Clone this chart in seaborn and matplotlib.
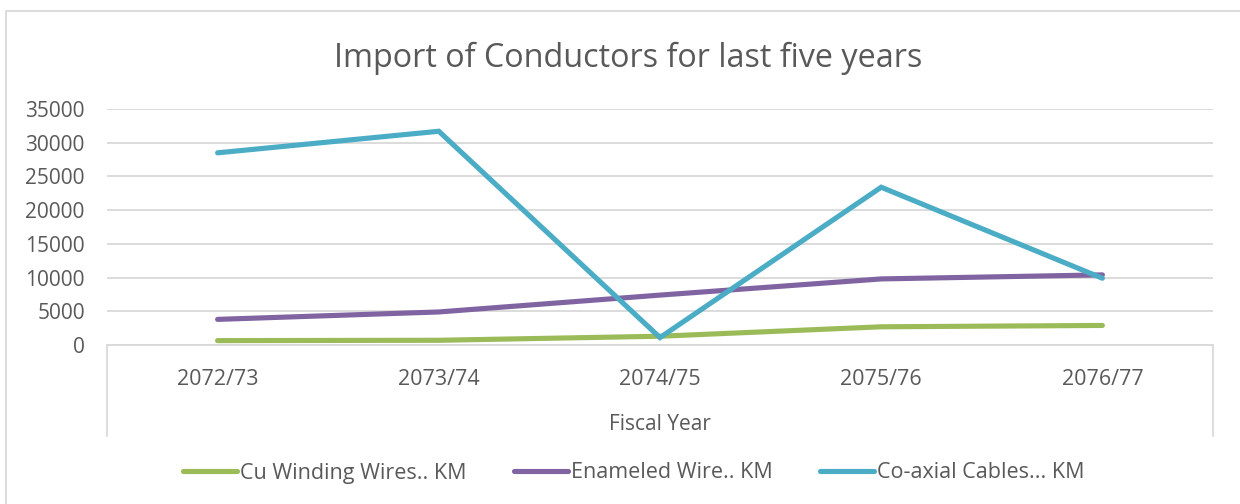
import matplotlib
matplotlib.use("Agg")
import matplotlib.pyplot as plt
import seaborn as sns
import pandas as pd
from matplotlib.lines import Line2D

years = ["2072/73", "2073/74", "2074/75", "2075/76", "2076/77"]
cu_winding = [650, 700, 1300, 2700, 2900]
enameled = [3800, 4900, 7400, 9800, 10400]
coaxial = [28500, 31700, 1100, 23400, 9900]
series_names = ["Cu Winding Wires.. KM", "Enameled Wire.. KM", "Co-axial Cables... KM"]
colors = ["#9BBB59", "#8064A2", "#4BACC6"]
yticks = [0, 5000, 10000, 15000, 20000, 25000, 30000, 35000]

rows = []
for name, vals in zip(series_names, [cu_winding, enameled, coaxial]):
    for y, v in zip(years, vals):
        rows.append({"Fiscal Year": y, "value": v, "series": name})
df = pd.DataFrame(rows)

sns.set_theme(style="white")
plt.rcParams["font.family"] = ["Open Sans", "DejaVu Sans"]
txt = "#595959"

W, H = 1240, 504
fig = plt.figure(figsize=(W / 100, H / 100), dpi=100)
ax = fig.add_axes([107 / W, 1 - 345 / H, 1106 / W, 236 / H])

sns.lineplot(data=df, x="Fiscal Year", y="value", hue="series",
             hue_order=series_names, palette=colors, linewidth=3.7,
             sort=False, ax=ax, legend=False,
             solid_capstyle="round", solid_joinstyle="miter")

ax.set_xlim(-0.5, len(years) - 0.5)
ax.set_ylim(0, 35000)
ax.set_yticks(yticks)
ax.set_yticklabels([str(t) for t in yticks])
ax.grid(axis="y", color="#D9D9D9", linewidth=1.3)
ax.grid(axis="x", visible=False)
ax.set_axisbelow(True)
for s in ["top", "left", "right"]:
    ax.spines[s].set_visible(False)
ax.spines["bottom"].set_color("#D9D9D9")
ax.spines["bottom"].set_linewidth(1.3)
ax.tick_params(axis="y", length=0, pad=16, labelsize=15, labelcolor=txt)
ax.tick_params(axis="x", length=0, pad=17.5, labelsize=15.5, labelcolor=txt)
ax.set_ylabel("")
ax.set_xlabel("Fiscal Year", fontsize=15, color=txt, labelpad=17)

# category box side lines below the axis
depth = (436 - 345) / 236
for xx in (0, 1):
    ax.add_line(Line2D([xx, xx], [0, -depth], transform=ax.transAxes,
                       color="#D9D9D9", linewidth=1.3, clip_on=False))

# outer chart frame
fig.add_artist(Line2D([6 / W, 6 / W], [0, 1 - 11 / H], transform=fig.transFigure,
                      color="#D9D9D9", linewidth=1.3))
fig.add_artist(Line2D([6 / W, 1], [1 - 11 / H, 1 - 11 / H], transform=fig.transFigure,
                      color="#D9D9D9", linewidth=1.3))

fig.text(628 / W, 1 - 58 / H, "Import of Conductors for last five years",
         ha="center", va="center", fontsize=23.3, color=txt)

handles = [Line2D([0], [0], color=c, linewidth=3.7, solid_capstyle="round")
           for c in colors]
fig.legend(handles, series_names, loc="center", bbox_to_anchor=(634 / W, 1 - 473 / H),
           ncol=3, frameon=False, fontsize=15.5, labelcolor=txt,
           handlelength=2.5, handletextpad=0.15, columnspacing=2.2)

fig.savefig("out.png", dpi=100, facecolor="white")
